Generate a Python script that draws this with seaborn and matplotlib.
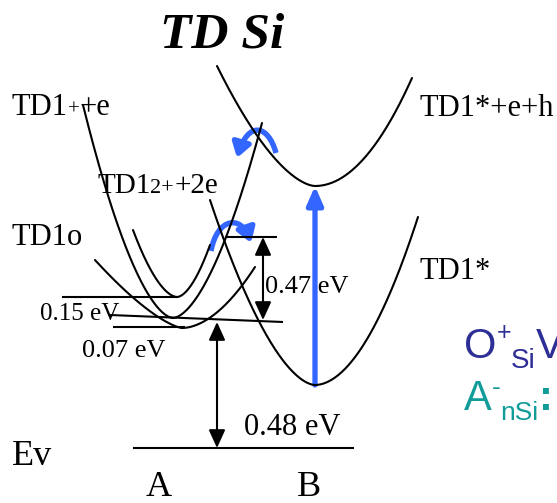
import numpy as np
import matplotlib
matplotlib.use("Agg")
import matplotlib.pyplot as plt
import seaborn as sns
import pandas as pd
from matplotlib.patches import FancyArrowPatch
from matplotlib.path import Path

# ---------------- data (diagram units = pixels, y grows downward = lower energy) ----------------
curve_names = ["TD1++e", "TD1(2+)+2e", "TD1o", "TD1*+e+h", "TD1*"]
vertex_x  = [173, 177, 182, 315, 315]
vertex_y  = [318, 297, 328, 186, 385]
left_x    = [83, 133, 95, 217, 210]
left_y    = [105, 230, 260, 66, 200]
right_x   = [262, 210, 255, 412, 418]
right_y   = [123, 245, 267, 78, 217]
exp_left  = [1.7, 1.75, 1.4, 1.65, 1.7]
exp_right = [1.7, 1.75, 1.85, 2.0, 1.9]

# energy level lines (x0, y0, x1, y1)
level_x0 = [62, 113, 110, 225, 133]
level_y0 = [297, 327, 315, 237, 448]
level_x1 = [178, 185, 283, 277, 354]
level_y1 = [297, 327, 322, 237, 448]

# energy gaps: double arrows (x, y_top, y_bottom)
gap_x   = [217, 263]
gap_top = [322, 237]
gap_bot = [448, 320]

# optical excitation (blue vertical arrow)
excite_x, excite_from, excite_to = 315, 385, 186

# blue hopping arcs (cubic Bezier: start, ctrl1, ctrl2, tip)
arc_upper = [(276, 153), (268, 124), (248, 121), (237, 158)]
arc_lower = [(211, 251), (217, 218), (241, 214), (251, 243)]

BLUE = "#3366FF"

# ---------------- figure ----------------
sns.set_style("white")
plt.rcParams["font.family"] = ["Liberation Serif", "DejaVu Serif"]
fig = plt.figure(figsize=(5.57, 5.03), dpi=100)
ax = fig.add_axes([0, 0, 1, 1])

rows = []
for i, name in enumerate(curve_names):
    vx, vy = vertex_x[i], vertex_y[i]
    kl = (vy - left_y[i]) / abs(vx - left_x[i]) ** exp_left[i]
    kr = (vy - right_y[i]) / abs(right_x[i] - vx) ** exp_right[i]
    xs_l = np.linspace(left_x[i], vx, 120)
    xs_r = np.linspace(vx, right_x[i], 120)[1:]
    ys_l = vy - kl * np.abs(xs_l - vx) ** exp_left[i]
    ys_r = vy - kr * np.abs(xs_r - vx) ** exp_right[i]
    xs = np.concatenate([xs_l, xs_r])
    ys = np.concatenate([ys_l, ys_r])
    for j, (a, b) in enumerate(zip(xs, ys)):
        rows.append({"curve": name, "order": j, "x": a, "y": b})
df = pd.DataFrame(rows)
sns.lineplot(data=df, x="x", y="y", units="curve", estimator=None, sort=False,
             color="black", lw=1.5, ax=ax, legend=False)
ax.set_xlim(0, 557)
ax.set_ylim(503, 0)
ax.axis("off")

for x0, y0, x1, y1 in zip(level_x0, level_y0, level_x1, level_y1):
    ax.plot([x0, x1], [y0, y1], color="black", lw=1.5, solid_capstyle="butt")

for gx, gt, gb in zip(gap_x, gap_top, gap_bot):
    ax.add_patch(FancyArrowPatch((gx, gb), (gx, gt), arrowstyle="<|-|>,head_length=1.1,head_width=0.5",
                                 mutation_scale=10, color="black", lw=1.5, shrinkA=0, shrinkB=0))

ax.add_patch(FancyArrowPatch((excite_x, excite_from), (excite_x, excite_to),
                             arrowstyle="-|>,head_length=1.1,head_width=0.48", mutation_scale=10,
                             color=BLUE, lw=3.8, shrinkA=0, shrinkB=0))

for pts in (arc_upper, arc_lower):
    path = Path(pts, [Path.MOVETO, Path.CURVE4, Path.CURVE4, Path.CURVE4])
    ax.add_patch(FancyArrowPatch(path=path, arrowstyle="-|>,head_length=0.85,head_width=0.55",
                                 mutation_scale=10, color=BLUE, lw=3.9, shrinkA=0, shrinkB=0,
                                 capstyle="butt"))

renderer = fig.canvas.get_renderer()


def rich(x, y, pieces, family, color="black"):
    for s, size, dy, weight, style in pieces:
        t = ax.text(x, y + dy, s, fontsize=size, family=family, color=color,
                    ha="left", va="baseline", fontweight=weight, fontstyle=style)
        bb = t.get_window_extent(renderer=renderer)
        x += bb.width


serif = ["Liberation Serif", "DejaVu Serif"]
sans = ["Liberation Sans", "DejaVu Sans"]
N = "normal"

rich(160, 47, [("TD Si", 37, 0, "bold", "italic")], serif)
rich(12, 115, [("TD1", 22, 0, N, N), ("+", 15, 0, N, N), ("+e", 22, 0, N, N)], serif)
rich(420, 116, [("TD1*+e+h", 22, 0, N, N)], serif)
rich(97, 193, [("TD1", 21, 0, N, N), ("2+", 16, 0, N, N), ("+2e", 21, 0, N, N)], serif)
rich(12, 245, [("TD1o", 22, 0, N, N)], serif)
rich(420, 279, [("TD1*", 22, 0, N, N)], serif)
rich(40, 320, [("0.15 eV", 18, 0, N, N)], serif)
rich(82, 357, [("0.07 eV", 19, 0, N, N)], serif)
rich(265, 293, [("0.47 eV", 19, 0, N, N)], serif)
rich(244, 435, [("0.48 eV", 22, 0, N, N)], serif)
rich(12, 465, [("Ev", 26, 0, N, N)], serif)
rich(146, 496, [("A", 26, 0, N, N)], serif)
rich(297, 496, [("B", 26, 0, N, N)], serif)

rich(464, 358, [("O", 30, 0, N, N), ("+", 18, -18, N, N), ("Si", 20, 10, N, N), ("V", 30, 0, N, N)],
     sans, color="#2D2E96")
rich(464, 410, [("A", 30, 0, N, N), ("-", 19, -15, N, N), ("nSi", 19, 10, N, N), (":", 30, 0, "bold", N)],
     sans, color="#129C99")

fig.savefig("out.png", dpi=100)
